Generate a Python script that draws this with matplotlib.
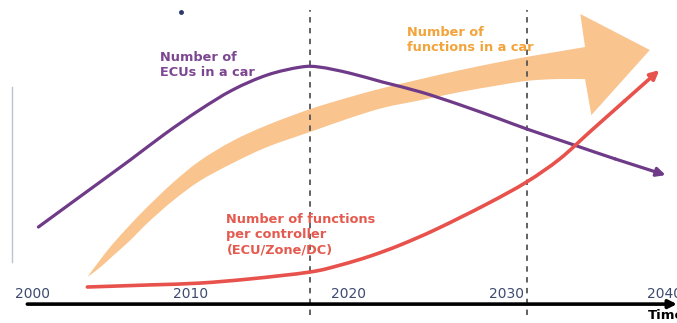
import numpy as np
import matplotlib.pyplot as plt
from matplotlib.path import Path
from matplotlib.patches import PathPatch

# years on x, relative level (0..100) on y
ecu_years = [2000.4, 2003.0, 2006.2, 2008.4, 2010.6, 2012.7, 2014.9, 2017.0, 2018.2,
             2020.1, 2022.2, 2024.6, 2027.1, 2029.6, 2031.3, 2034.1, 2036.9, 2040.1]
ecu_level = [26.0, 36.0, 48.3, 57.0, 65.0, 71.7, 76.7, 79.3, 79.3,
             77.3, 74.3, 71.0, 66.7, 62.0, 58.7, 53.7, 48.7, 43.3]

ctrl_years = [2003.5, 2007.5, 2010.6, 2013.8, 2017.6, 2019.5, 2021.4, 2023.3, 2025.6,
              2028.8, 2031.3, 2033.4, 2035.3, 2037.5, 2039.7]
ctrl_level = [6.0, 6.7, 7.3, 8.7, 11.0, 13.3, 16.3, 20.0, 25.3,
              33.7, 41.0, 48.7, 57.7, 68.0, 78.3]

# band for number of functions in a car (upper / lower edge)
func_years = [2003.5, 2004.3, 2005.1, 2006.2, 2007.3, 2008.9, 2010.6, 2012.7, 2014.9,
              2017.6, 2020.1, 2022.2, 2024.6, 2027.1, 2029.6, 2031.3, 2033.1, 2035.0]
func_upper = [9.3, 15.0, 20.3, 26.7, 32.7, 40.7, 48.0, 54.7, 60.0,
              65.3, 69.3, 72.3, 75.3, 78.3, 81.0, 82.7, 84.3, 86.0]
func_lower = [9.3, 12.5, 16.3, 21.5, 27.3, 34.7, 41.3, 47.3, 52.7,
              57.7, 62.3, 65.7, 68.3, 71.0, 73.3, 74.7, 75.3, 75.3]
head_top = (2034.7, 97.0)
head_tip = (2039.1, 85.0)
head_bottom = (2035.4, 63.3)

tick_years = [2000, 2010, 2020, 2030, 2040]
marker_years = [2017.6, 2031.3]

purple = '#6f3b89'
orange_fill = '#f9c48e'
red = '#e8524c'


def smooth(xs, ys, nseg=None):
    """Catmull-Rom through the points, as cubic bezier path pieces."""
    p = np.column_stack([xs, ys]).astype(float)
    e = np.vstack([p[0], p, p[-1]])
    n = len(p) - 1 if nseg is None else nseg
    verts, codes = [tuple(p[0])], [Path.MOVETO]
    for i in range(n):
        c1 = e[i + 1] + (e[i + 2] - e[i]) / 6
        c2 = e[i + 2] - (e[i + 3] - e[i + 1]) / 6
        verts += [tuple(c1), tuple(c2), tuple(e[i + 2])]
        codes += [Path.CURVE4] * 3
    return verts, codes


fig = plt.figure(figsize=(6.77, 3.23), dpi=100)
ax = fig.add_axes([0, 0, 1, 1])
ax.set_xlim(1997.97, 2040.82)
ax.set_ylim(-6, 101.67)
ax.axis('off')

# big curved arrow
uv, uc = smooth(func_years, func_upper)
lv, lc = smooth(func_years[::-1], func_lower[::-1])
verts = uv + [head_top, head_tip, head_bottom] + lv + [uv[0]]
codes = uc + [Path.LINETO] * 3 + [Path.LINETO] + lc[1:] + [Path.CLOSEPOLY]
ax.add_patch(PathPatch(Path(verts, codes), facecolor=orange_fill, edgecolor='none', zorder=1))

# dashed markers
for yr in marker_years:
    ax.plot([yr, yr], [-3.3, 98.3], color='#555555', lw=1.3, ls=(0, (3, 3)), zorder=2)

# ECU curve
v, c = smooth(ecu_years, ecu_level, nseg=len(ecu_years) - 2)
ax.add_patch(PathPatch(Path(v, c), facecolor='none', edgecolor=purple, lw=2.3,
                       capstyle='round', zorder=3))
ax.annotate('', xy=(ecu_years[-1], ecu_level[-1]), xytext=(ecu_years[-2], ecu_level[-2]),
            arrowprops=dict(arrowstyle='-|>', color=purple, lw=2.3, mutation_scale=13,
                            shrinkA=0, shrinkB=0), zorder=3)

# functions per controller
v, c = smooth(ctrl_years, ctrl_level, nseg=len(ctrl_years) - 2)
ax.add_patch(PathPatch(Path(v, c), facecolor='none', edgecolor=red, lw=2.6,
                       capstyle='round', zorder=3))
ax.annotate('', xy=(ctrl_years[-1], ctrl_level[-1]), xytext=(ctrl_years[-2], ctrl_level[-2]),
            arrowprops=dict(arrowstyle='-|>', color=red, lw=2.6, mutation_scale=13,
                            shrinkA=0, shrinkB=0), zorder=3)

# time axis
ax.annotate('', xy=(2040.82, 0.3), xytext=(1999.7, 0.3),
            arrowprops=dict(arrowstyle='-|>', color='black', lw=2.6, mutation_scale=12,
                            shrinkA=0, shrinkB=0), zorder=4)
ax.text(2039.0, -3.6, 'Time', fontsize=9.5, fontweight='bold', color='black',
        ha='left', va='center', zorder=5)

for yr in tick_years:
    ax.text(yr, 3.8, str(yr), fontsize=10, color='#3d4b6e', ha='center', va='center', zorder=5)

# thin line at the left edge and small dot at the top
ax.plot([1998.7, 1998.7], [14.3, 72.7], color='#b9c4d6', lw=1)
ax.plot([2009.4], [97.7], 'o', color='#2b3a6b', ms=2.5)

ax.text(2008.1, 84.7, 'Number of\nECUs in a car', fontsize=9.3, fontweight='bold',
        color='#7d4690', ha='left', va='top', zorder=5)
ax.text(2023.7, 93.0, 'Number of\nfunctions in a car', fontsize=9.3, fontweight='bold',
        color='#f2a33a', ha='left', va='top', zorder=5)
ax.text(2012.3, 30.6, 'Number of functions\nper controller\n(ECU/Zone/DC)', fontsize=9.3,
        fontweight='bold', color='#e45a4e', ha='left', va='top', zorder=5)

fig.savefig('out.png', dpi=100)
